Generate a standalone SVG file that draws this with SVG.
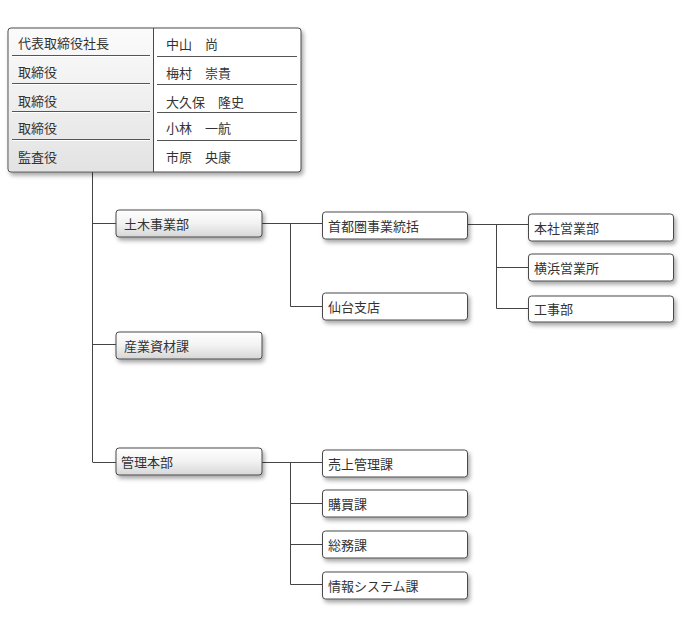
<svg xmlns="http://www.w3.org/2000/svg" width="700" height="620" viewBox="0 0 700 620">
<defs>
<linearGradient id="g2" x1="0" y1="0" x2="0" y2="1">
<stop offset="0" stop-color="#ffffff"/>
<stop offset="0.5" stop-color="#f2f2f2"/>
<stop offset="1" stop-color="#d6d6d6"/>
</linearGradient>
<linearGradient id="gcol" x1="0" y1="0" x2="0" y2="1">
<stop offset="0" stop-color="#fbfbfb"/>
<stop offset="1" stop-color="#e3e3e3"/>
</linearGradient>
<filter id="sh" x="-10%" y="-20%" width="130%" height="160%">
<feDropShadow dx="2" dy="3" stdDeviation="2" flood-color="#000" flood-opacity="0.35"/>
</filter>
</defs>
<style>
text{font-family:"Noto Sans CJK JP","Noto Sans CJK SC",sans-serif;font-size:13px;fill:#333}
.b2{fill:url(#g2);stroke:#4a4a4a;stroke-width:1}
.b3{fill:#fff;stroke:#4a4a4a;stroke-width:1}
.ln{fill:none;stroke:#444;stroke-width:1}
.sep{stroke:#555;stroke-width:1}
.hl{stroke:#fff;stroke-width:1}
</style>
<rect width="700" height="620" fill="#fff"/>

<g id="connectors">
<path class="ln" d="M92.5 172V462M92.5 223.5H116M92.5 344.5H116M92.5 462.5H116"/>
<path class="ln" d="M262 223.5H322M290.5 223.5V306.5H322"/>
<path class="ln" d="M468 224.5H528M496.5 224.5V308.5H528M496.5 267.5H528"/>
<path class="ln" d="M262 462.5H322M290.5 462.5V584.5H322M290.5 503.5H322M290.5 544.5H322"/>
</g>

<g id="board">
<rect x="8" y="28" width="293" height="144" rx="3" fill="#fff" stroke="#4a4a4a" filter="url(#sh)"/>
<path d="M11 29H153V171H11A2 2 0 0 1 9 169V31A2 2 0 0 1 11 29Z" fill="url(#gcol)"/>
<line x1="153.5" y1="28" x2="153.5" y2="172" stroke="#4a4a4a"/>
<g class="sep">
<line x1="12" y1="55.5" x2="150" y2="55.5"/><line x1="12" y1="83.5" x2="150" y2="83.5"/>
<line x1="12" y1="111.5" x2="150" y2="111.5"/><line x1="12" y1="139.5" x2="150" y2="139.5"/>
<line x1="157" y1="56.5" x2="297" y2="56.5"/><line x1="157" y1="84.5" x2="297" y2="84.5"/>
<line x1="157" y1="112.5" x2="297" y2="112.5"/><line x1="157" y1="140.5" x2="297" y2="140.5"/>
</g>
<g class="hl">
<line x1="12" y1="56.5" x2="150" y2="56.5"/><line x1="12" y1="84.5" x2="150" y2="84.5"/>
<line x1="12" y1="112.5" x2="150" y2="112.5"/><line x1="12" y1="140.5" x2="150" y2="140.5"/>
</g>
<text x="18" y="47.5">代表取締役社長</text>
<text x="18" y="76.5">取締役</text>
<text x="18" y="105.5">取締役</text>
<text x="18" y="132.5">取締役</text>
<text x="18" y="161.5">監査役</text>
<text x="166" y="48.5">中山　尚</text>
<text x="166" y="77.5">梅村　崇貴</text>
<text x="166" y="106.5">大久保　隆史</text>
<text x="166" y="132.5">小林　一航</text>
<text x="166" y="161.5">市原　央康</text>
</g>

<g id="n-doboku"><rect class="b2" x="116" y="210" width="146" height="27" rx="3" filter="url(#sh)"/><text x="124" y="228.5">土木事業部</text></g>
<g id="n-sangyo"><rect class="b2" x="116" y="332" width="146" height="27" rx="3" filter="url(#sh)"/><text x="124" y="350.5">産業資材課</text></g>
<g id="n-kanri"><rect class="b2" x="116" y="448" width="146" height="27" rx="3" filter="url(#sh)"/><text x="121" y="466.5">管理本部</text></g>

<g id="n-shuto"><rect class="b3" x="322.5" y="212" width="145" height="27" rx="3" filter="url(#sh)"/><text x="328" y="230.5">首都圏事業統括</text></g>
<g id="n-sendai"><rect class="b3" x="322.5" y="293" width="145" height="27" rx="3" filter="url(#sh)"/><text x="328" y="311.5">仙台支店</text></g>

<g id="n-honsha"><rect class="b3" x="528.5" y="214" width="145" height="27" rx="3" filter="url(#sh)"/><text x="534" y="232.5">本社営業部</text></g>
<g id="n-yokohama"><rect class="b3" x="528.5" y="254" width="145" height="27" rx="3" filter="url(#sh)"/><text x="534" y="272.5">横浜営業所</text></g>
<g id="n-koji"><rect class="b3" x="528.5" y="296" width="145" height="26" rx="3" filter="url(#sh)"/><text x="534" y="314">工事部</text></g>

<g id="n-uriage"><rect class="b3" x="322.5" y="450" width="145" height="27" rx="3" filter="url(#sh)"/><text x="328" y="468.5">売上管理課</text></g>
<g id="n-kobai"><rect class="b3" x="322.5" y="490" width="145" height="27" rx="3" filter="url(#sh)"/><text x="328" y="508.5">購買課</text></g>
<g id="n-somu"><rect class="b3" x="322.5" y="531" width="145" height="27" rx="3" filter="url(#sh)"/><text x="328" y="549.5">総務課</text></g>
<g id="n-joho"><rect class="b3" x="322.5" y="572" width="145" height="27" rx="3" filter="url(#sh)"/><text x="328" y="590.5">情報システム課</text></g>
</svg>
